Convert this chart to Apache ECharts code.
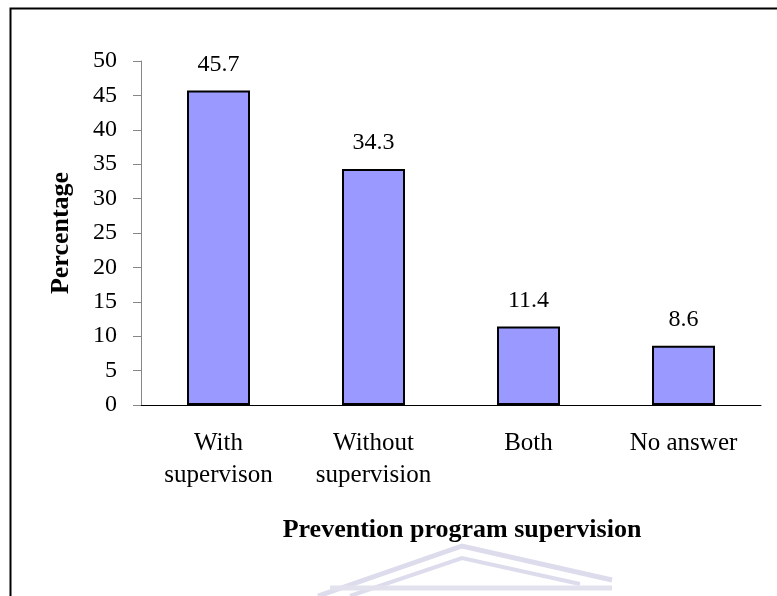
<!DOCTYPE html>
<html>
<head>
<meta charset="utf-8">
<script src="https://cdn.jsdelivr.net/npm/echarts@6/dist/echarts.min.js"></script>
<style>
  html, body { margin: 0; padding: 0; background: #fff; }
  #chart { width: 777px; height: 596px; }
</style>
</head>
<body>
<div id="chart"></div>
<script>
const categories = ["With\nsupervison", "Without\nsupervision", "Both", "No answer"];
const percentages = [45.7, 34.3, 11.4, 8.6];

const serif = "'Liberation Serif', 'Times New Roman', serif";
const chart = echarts.init(document.getElementById("chart"));

chart.setOption({
    backgroundColor: "#fff",
    animation: false,
    grid: { left: 141, right: 16, top: 61, bottom: 191 },
    xAxis: {
        type: "category",
        data: categories,
        name: "Prevention program supervision",
        nameLocation: "middle",
        nameGap: 112,
        nameTextStyle: { fontFamily: serif, fontSize: 26, fontWeight: "bold", color: "#000", padding: [0, 0, 0, 22] },
        axisLine: { lineStyle: { color: "#000", width: 1 } },
        axisTick: { length: 8, lineStyle: { color: "#000" } },
        axisLabel: { fontFamily: serif, fontSize: 25, color: "#000", margin: 22, lineHeight: 32 }
    },
    yAxis: {
        type: "value",
        min: 0,
        max: 50,
        interval: 5,
        name: "Percentage",
        nameLocation: "middle",
        nameRotate: 90,
        nameGap: 67,
        nameTextStyle: { fontFamily: serif, fontSize: 26, fontWeight: "bold", color: "#000" },
        axisLine: { show: true, lineStyle: { color: "#868686" } },
        axisTick: { show: true, length: 8, lineStyle: { color: "#868686" } },
        axisLabel: { fontFamily: serif, fontSize: 24, color: "#000", margin: 24 },
        splitLine: { show: false }
    },
    series: [{
        type: "bar",
        data: percentages,
        barWidth: 63,
        itemStyle: { color: "#9999ff", borderColor: "#000", borderWidth: 2 },
        label: {
            show: true,
            position: "top",
            distance: 14,
            fontFamily: serif,
            fontSize: 24,
            color: "#000"
        }
    }],
    graphic: [
        // outer frame (left and top edges)
        { type: "polyline", shape: { points: [[10.5, 596], [10.5, 8.5], [777, 8.5]] }, style: { stroke: "#000", lineWidth: 2, fill: null } },
        // faint watermark
        { type: "polyline", silent: true, shape: { points: [[318, 596], [462, 546], [612, 580]] }, style: { stroke: "#dcdcec", lineWidth: 5, fill: null } },
        { type: "polyline", silent: true, shape: { points: [[350, 596], [462, 558], [580, 584]] }, style: { stroke: "#dcdcec", lineWidth: 4, fill: null } },
        { type: "line", silent: true, shape: { x1: 330, y1: 588, x2: 612, y2: 588 }, style: { stroke: "#e2e2ee", lineWidth: 5 } }
    ]
});
</script>
</body>
</html>
